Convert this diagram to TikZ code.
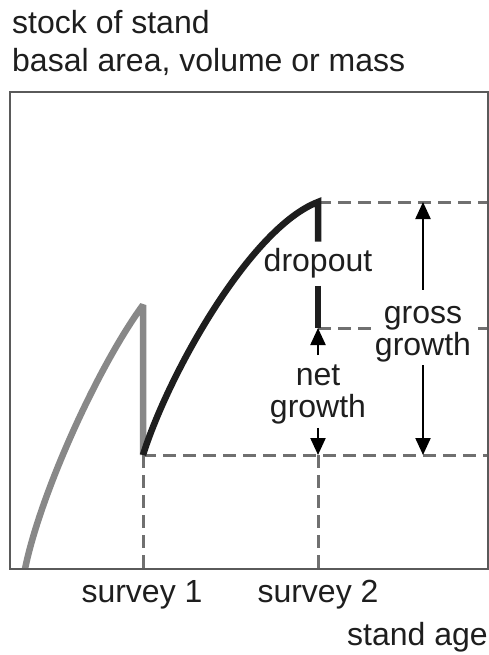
\documentclass[tikz,border=0pt]{standalone}
\usepackage{fontspec}
\setmainfont{Liberation Sans}
\usepackage{tikz}
\usetikzlibrary{arrows.meta, positioning, calc}
\tikzset{every node/.style={font=\fontsize{32}{32}\selectfont}}
\usepackage{xcolor}
\definecolor{inkgray}{HTML}{1E1E1E}
\definecolor{oldstand}{HTML}{888888}
\definecolor{guidegray}{HTML}{707070}
\definecolor{framegray}{HTML}{5A5A5A}

\begin{document}
\begin{tikzpicture}[x=1pt, y=-1pt,
    growthcurve/.style={line width=6.5pt},
    guideline/.style={draw=guidegray, line width=3pt, dash pattern=on 13pt off 7pt},
    measure/.style={draw=black, line width=2.2pt, -{Triangle[length=17pt, width=15pt]}},
    lbl/.style={inner sep=0pt, text=inkgray}]
  \useasboundingbox (0,0) rectangle (489,655);
  % survey points and levels
  \coordinate (start0) at (25,569);
  \coordinate (peak1) at (143,305);
  \coordinate (s1) at (143,455);
  \coordinate (top2) at (318,202);
  \coordinate (net2) at (318,328);
  \coordinate (s2) at (318,455);
  \coordinate (s1foot) at (143,569);
  \coordinate (s2foot) at (318,569);
  \coordinate (grosstop) at (423,202);
  \coordinate (grossbase) at (423,455);
  \coordinate (rtop) at (488,202);
  \coordinate (rnet) at (488,328);
  \coordinate (rbase) at (488,455);
  % guide lines
  \draw[guideline] (top2) -- (rtop);
  \draw[guideline] (net2) -- (rnet);
  \draw[guideline] (s1) -- (rbase);
  \draw[guideline] (s1) -- (s1foot);
  \draw[guideline] (s2) -- (s2foot);
  % labels in the plot
  \node[lbl, inner ysep=7pt] (dropout) at (318,263.7) {dropout};
  \node[lbl, fill=white, inner xsep=2pt, inner ysep=3pt, align=center] (gross) at (423,334) {gross\\growth};
  \node[lbl, inner ysep=4pt, align=center] (net) at (318,394) {net\\growth};
  % stand curves
  \draw[growthcurve, oldstand, line join=bevel] (start0) .. controls (40,495) and (97,368) .. (peak1) -- (s1);
  \draw[growthcurve, inkgray, line join=miter] (s1) .. controls (168,375) and (250,228) .. (top2) -- (dropout.north);
  \draw[growthcurve, inkgray] (dropout.south) -- (net2);
  % growth arrows
  \draw[measure, shorten <=13pt] (gross.north) -- (grosstop);
  \draw[measure] (gross.south) -- (grossbase);
  \draw[measure, shorten <=5pt] (net.north) -- (net2);
  \draw[measure] (net.south) -- (s2);
  \draw[framegray, line width=2.5pt] (10,92) rectangle (488,569);
  % axis texts
  \node[lbl, anchor=base west] (ylabel1) at (12,34) {stock of stand};
  \node[lbl, anchor=base west] (ylabel2) at (12,72) {basal area, volume or mass};
  \node[lbl, anchor=base] (survey1) at (142,602) {survey 1};
  \node[lbl, anchor=base] (survey2) at (318,602) {survey 2};
  \node[lbl, anchor=base east] (xlabel) at (488,645) {stand age};
\end{tikzpicture}
\end{document}
